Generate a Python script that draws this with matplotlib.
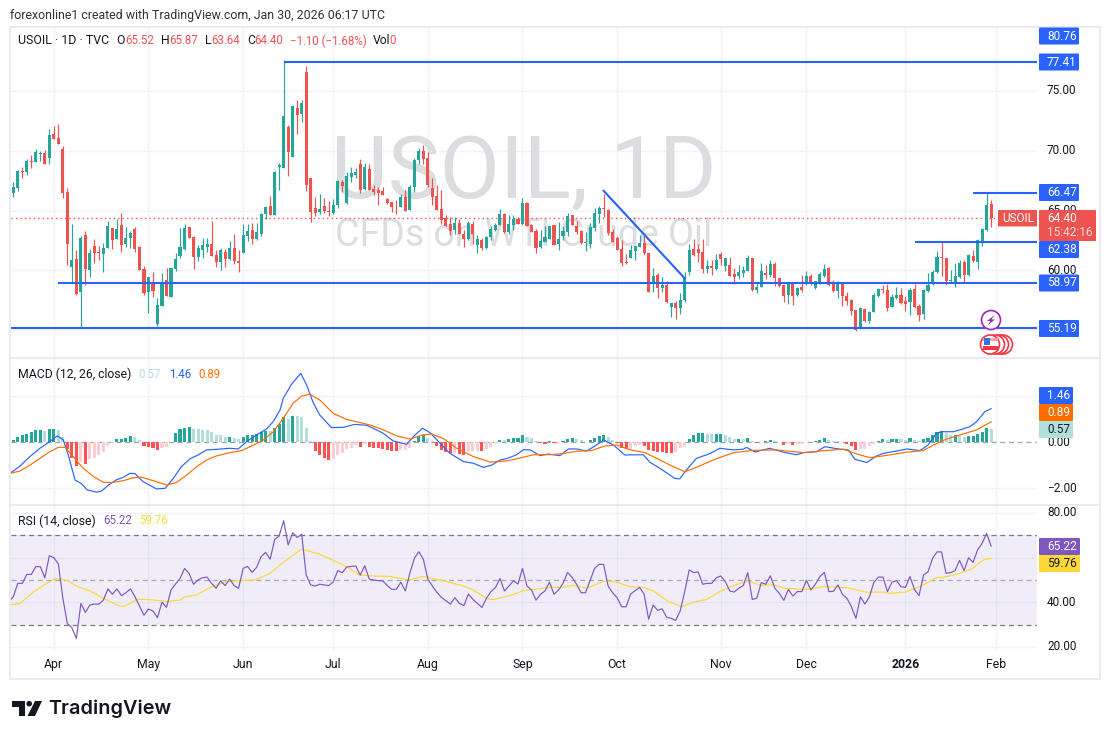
import numpy as np
import matplotlib
matplotlib.use("Agg")
import matplotlib.pyplot as plt
from matplotlib import patches as mpatches

plt.rcParams['font.family'] = ['Roboto', 'DejaVu Sans']

# USOIL daily candles
opens = [66.47,66.89,68.31,68.22,69.14,69.06,69.73,69.81,69.39,71.40,
    71.07,70.15,66.55,60.28,60.95,58.19,62.96,60.03,62.04,61.54,
    61.37,61.87,63.54,62.62,63.79,62.21,62.71,63.46,61.95,60.12,
    58.19,58.95,55.52,57.02,59.20,57.78,60.12,61.20,61.79,63.63,
    62.79,61.12,61.70,61.95,62.21,61.29,60.70,61.54,60.95,61.87,
    60.78,61.45,62.87,63.38,62.62,63.04,64.71,65.38,64.63,68.64,
    68.56,71.98,69.48,73.57,73.07,76.58,67.72,65.21,64.88,65.38,
    64.96,64.80,65.47,67.39,65.60,67.83,67.97,68.90,66.80,68.50,
    66.80,66.72,66.63,65.97,65.72,65.47,65.30,66.13,65.02,66.97,
    69.20,70.00,69.40,66.89,66.22,65.13,64.38,63.88,63.38,63.96,
    63.04,62.62,63.88,62.12,62.54,61.87,62.79,63.38,63.79,64.71,
    63.21,63.79,64.29,63.88,65.63,63.79,63.29,61.95,62.37,62.62,
    63.79,62.20,62.87,63.21,64.63,63.71,63.29,62.32,62.20,63.54,
    64.71,65.16,65.05,63.21,62.71,61.79,60.70,61.04,61.62,61.95,
    62.29,61.45,58.95,59.61,58.53,58.78,56.94,57.27,56.86,57.52,
    59.86,61.79,61.79,61.54,60.12,60.37,60.12,61.37,60.37,60.45,
    59.70,59.53,59.78,59.95,61.04,58.36,58.61,59.78,59.61,60.53,
    59.36,58.78,57.94,58.95,57.94,58.61,58.86,59.53,58.53,58.86,
    59.53,60.20,58.95,58.28,58.95,57.86,57.52,56.69,55.10,56.77,
    55.77,56.52,57.86,58.44,58.36,56.94,57.69,57.94,57.44,57.36,
    58.44,57.02,56.35,58.28,58.86,59.86,61.12,61.04,59.11,58.86,
    59.45,60.70,59.61,61.20,60.70,62.37,63.38,65.52]
highs = [67.39,68.39,68.64,69.31,69.64,70.15,69.98,70.06,71.82,72.07,
    72.24,70.40,66.89,63.88,61.70,62.87,63.29,61.79,62.62,62.04,
    62.29,64.10,63.54,64.30,64.80,63.63,63.29,63.63,62.04,60.37,
    59.45,59.87,57.69,59.78,60.20,60.20,61.45,63.54,63.88,63.63,
    62.87,62.12,62.71,62.71,64.13,61.70,61.87,61.79,62.46,63.04,
    61.70,63.88,63.88,63.96,63.96,64.80,65.38,66.22,68.31,68.98,
    77.58,72.15,73.82,74.24,74.24,77.08,67.72,66.13,66.38,66.05,
    65.80,65.97,67.55,67.55,68.25,68.60,68.55,69.30,69.00,68.90,
    67.14,66.94,66.97,66.05,65.72,65.88,66.38,66.72,67.14,69.40,
    70.20,70.50,69.90,67.72,67.14,66.72,64.63,64.46,64.46,64.29,
    63.38,64.13,64.13,62.96,62.71,62.87,63.71,63.96,65.13,64.80,
    64.63,64.63,64.46,66.05,65.72,63.88,63.46,63.38,63.71,63.71,
    63.79,64.04,63.71,64.80,64.63,64.13,63.38,63.21,63.96,65.21,
    65.38,66.38,65.13,63.46,62.87,62.54,61.37,62.12,62.04,62.96,
    62.96,61.45,60.20,59.78,59.45,59.11,57.27,57.44,58.11,59.86,
    62.20,62.62,62.20,62.62,60.87,60.87,61.37,61.54,61.04,61.12,
    60.20,60.45,60.37,61.29,61.04,58.95,60.62,60.45,60.87,60.70,
    59.36,58.78,58.95,58.95,58.61,59.61,59.95,59.70,59.11,59.86,
    60.53,60.28,59.20,59.11,58.95,58.19,57.61,56.69,56.94,56.77,
    56.61,58.11,58.53,58.78,58.86,58.03,58.61,58.53,57.86,58.53,
    58.86,57.19,58.44,59.78,60.03,61.62,62.37,61.04,60.03,60.62,
    60.87,60.87,61.37,61.70,62.62,63.54,66.47,65.87]
lows = [66.13,66.64,67.72,67.97,68.56,69.06,69.14,68.89,68.89,70.98,
    70.56,66.05,60.45,58.95,57.94,55.19,58.78,59.45,60.62,60.87,
    59.87,61.87,61.79,62.62,61.54,61.95,61.87,61.54,60.03,57.94,
    56.44,57.78,55.35,57.02,57.86,57.78,59.95,61.04,61.70,62.71,
    60.12,60.78,61.04,61.54,61.20,60.28,60.03,60.28,60.87,60.53,
    59.87,61.45,62.46,62.21,62.54,62.87,64.30,64.63,64.63,66.72,
    68.56,67.89,69.48,71.40,72.40,66.64,64.04,64.55,64.71,64.80,
    64.55,64.71,65.21,66.55,65.52,67.39,67.69,66.44,66.72,66.72,
    66.30,65.46,66.30,65.55,64.88,64.71,65.30,64.96,65.02,66.55,
    68.90,68.90,67.00,65.46,65.05,63.90,63.71,62.96,63.04,63.04,
    61.95,62.54,62.20,61.45,61.70,61.79,62.54,63.29,63.79,63.12,
    63.04,63.38,63.88,63.79,63.71,63.21,61.45,61.87,62.37,62.62,
    62.12,61.70,62.54,62.87,63.79,63.04,62.20,61.62,61.87,63.29,
    63.96,64.46,62.96,62.37,61.70,60.37,60.53,61.04,60.87,61.95,
    61.29,58.19,58.19,57.69,58.19,57.27,56.10,55.94,56.35,57.36,
    59.61,61.20,60.70,59.78,59.78,59.61,60.03,60.45,59.95,59.53,
    58.86,59.28,59.45,59.95,58.28,58.11,58.61,59.28,59.45,58.70,
    58.61,57.36,57.19,57.11,57.86,58.19,58.78,58.78,58.44,58.86,
    59.45,58.70,58.19,57.69,57.02,57.11,56.27,54.93,55.10,55.69,
    55.60,56.52,57.78,58.11,56.61,56.94,57.61,57.19,56.61,56.27,
    56.86,55.77,55.94,58.19,58.78,59.78,59.53,58.78,59.03,58.61,
    59.36,58.95,59.53,60.70,60.12,62.04,63.29,63.64]
closes = [66.97,68.31,68.22,69.14,69.06,69.89,69.84,68.89,71.32,70.98,
    70.56,66.47,62.20,60.87,58.03,62.71,60.12,61.45,61.45,61.48,
    61.87,63.71,62.54,63.46,62.12,62.71,63.12,61.79,60.03,58.11,
    59.45,58.28,57.11,58.95,57.86,60.20,60.95,61.95,63.54,62.71,
    61.12,61.87,62.12,62.21,61.20,60.70,61.70,60.95,61.87,60.78,
    60.62,62.96,63.29,62.62,63.21,64.71,65.30,64.63,68.22,68.81,
    72.90,69.89,73.74,72.99,73.99,67.14,64.88,64.80,65.13,64.96,
    64.91,65.47,67.47,67.05,67.89,68.17,68.25,66.72,68.60,66.72,
    66.55,66.47,66.30,65.63,65.30,65.44,66.13,64.96,66.97,69.20,
    70.00,69.30,67.14,66.13,65.05,64.21,63.71,63.29,63.96,63.04,
    62.62,63.96,63.04,62.62,61.87,62.79,63.46,63.79,64.71,63.21,
    63.88,64.29,63.88,65.63,63.71,63.21,61.87,62.46,62.79,63.71,
    62.12,62.62,63.29,64.54,63.79,63.21,62.29,62.37,63.63,64.80,
    65.21,65.13,63.12,62.37,61.70,60.62,60.62,61.70,62.04,62.29,
    61.45,58.19,59.53,58.53,58.78,57.36,57.27,56.86,57.52,59.36,
    61.70,61.29,61.45,60.12,60.37,60.20,60.87,60.95,61.04,59.53,
    59.45,59.86,60.03,61.04,58.36,58.61,59.95,59.61,60.53,59.36,
    58.70,57.86,58.95,57.86,58.53,58.36,59.53,58.86,59.11,59.70,
    60.12,58.78,58.28,58.86,57.86,57.44,56.61,55.02,56.86,55.77,
    56.52,57.94,58.44,58.36,56.86,57.78,57.94,57.27,57.19,58.36,
    56.94,56.27,58.36,58.78,59.86,61.12,61.06,59.11,59.20,59.53,
    60.62,59.61,61.29,60.78,62.54,63.46,65.46,64.40]

# drawn levels: (bar the line starts on, price)
level_start = [60, 213, 200, 10, -1]
level_price = [77.41, 66.47, 62.38, 58.97, 55.19]
trend_x = [131, 149]
trend_y = [66.66, 59.34]
last_price = 64.40

month_bars = [9, 30, 51, 71, 92, 113, 134, 157, 176, 198, 218]
month_names = ['Apr', 'May', 'Jun', 'Jul', 'Aug', 'Sep', 'Oct', 'Nov', 'Dec', '2026', 'Feb']

macd_hist = [.10,.23,.30,.38,.43,.54,.54,.48,.57,.58,.54,.23,-.30,-.70,-1.03,-.84,-.94,-.74,-.67,-.55,
    -.41,-.16,-.04,.13,.14,.19,.28,.22,.10,-.16,-.20,-.26,-.33,-.23,-.20,.02,
    .39,.59,.64,.67,.58,.57,.55,.54,.46,.32,.31,.22,.24,.17,.14,.23,.32,.33,.34,.46,.51,.50,.64,.80,
    1.10,1.00,1.14,1.13,1.10,.61,.06,-.36,-.55,-.67,-.75,-.72,-.55,-.45,-.30,-.23,-.12,-.19,-.07,-.20,
    -.25,-.26,-.29,-.35,-.38,-.39,-.33,-.32,-.25,.06,.29,.32,.19,.06,-.14,-.33,-.42,-.48,-.47,-.49,
    -.55,-.38,-.37,-.36,-.38,-.29,-.20,-.04,.10,.09,.14,.19,.195,.32,.23,.19,.07,-.04,-.06,.06,
    -.03,-.02,.04,.14,.19,.14,.10,.01,.10,.19,.28,.32,.23,.10,-.04,-.26,-.29,-.28,-.14,-.12,
    -.14,-.33,-.38,-.41,-.42,-.45,-.46,-.42,-.26,-.19,.14,.32,.41,.42,.36,.35,.36,.37,.32,.23,
    .14,.15,.14,.20,.06,-.04,.01,.06,.10,.06,.01,-.10,-.09,-.11,-.09,-.08,-.001,.01,.06,.10,
    .19,.10,.06,.04,.00,-.06,-.16,-.33,-.29,-.28,-.16,-.06,.04,.14,.10,.14,.145,.14,.10,.19,
    .10,.06,.14,.19,.32,.45,.48,.39,.32,.33,.28,.23,.28,.29,.36,.45,.62,.57]

macd_x = [-0.7,1.5,3.7,5.9,7.8,9.8,11.1,12.2,13.7,15.2,16.4,18.5,19.6,21.1,22.8,24.4,25.9,27,28.8,31.8,
    33.7,35.5,37.3,39.2,41,42.9,45.5,48.1,49.9,51.8,54,56.2,57.7,59.2,59.9,61.8,63.8,65.1,66.6,68,
    70.6,73.2,75.8,78.4,79.9,82.1,84.3,87.3,88.8,90.8,92.5,94.7,96.9,99.9,102.1,104.3,106.2,108,109.5,111.7,
    113.2,114.7,116.9,118.7,121.3,123.2,125,127.2,129.1,131,133.2,135.7,139.8,141.3,143.5,146.8,147.9,149.4,151.6,154.6,
    156.8,159.8,162,162.7,164.6,167.9,170.9,173.8,175.3,178.3,180.1,183.1,185.3,186.8,189.4,191.6,193.1,196,198.3,201.2,
    203,204.9,206,208.6,210.1,212.3,213.8,215.6,217]
macd_y = [-1.35,-1.03,-.62,-.26,-.01,.28,.10,-.55,-1.64,-1.81,-2.07,-2.17,-2.12,-1.86,-1.64,-1.52,-1.35,-1.36,-1.71,-2.03,
    -2.0,-1.57,-1.06,-.72,-.55,-.33,-.30,-.26,-.29,.03,.32,.58,.90,1.41,1.91,2.54,3.0,2.49,1.70,1.19,
    .64,.65,.78,.74,.61,.39,.06,-.09,.25,.61,.42,-.04,-.48,-.84,-.91,-1.09,-.99,-.77,-.71,-.54,
    -.32,-.33,-.58,-.51,-.58,-.29,-.29,-.38,-.16,.10,-.12,-.55,-.54,-.87,-1.13,-1.57,-1.59,-1.20,-.70,-.49,
    -.26,-.33,-.30,-.22,-.42,-.26,-.43,-.54,-.45,-.41,-.19,-.29,-.33,-.74,-.88,-.59,-.48,-.38,-.29,-.36,
    -.12,.39,.46,.46,.54,.68,.90,1.33,1.46]
signal_x = [-0.7,1.5,3.7,5.9,8.1,10,11.5,13.3,15.5,17.8,20,21.8,24.4,26.6,28.5,31.1,34,36.2,38.5,40.7,
    42.9,45.1,48.1,50.7,53.3,55.5,57.7,59.9,62.1,64,65.8,68,71,73.9,76.9,79.2,82.1,85.1,88,90.8,
    92.8,95.4,98.4,102.1,105.8,109.5,113.2,115.4,119.1,122,125,128.3,131.3,133.9,136.9,140.2,143.5,146.5,149,151.6,
    155.3,159.8,164.2,169.4,175.3,179,184.2,187.2,190.1,193.8,198.2,201.9,204.2,207.1,210.1,213.8,217]
signal_y = [-1.35,-1.25,-.99,-.70,-.41,-.22,-.22,-.62,-1.13,-1.49,-1.74,-1.75,-1.67,-1.54,-1.52,-1.67,-1.86,-1.75,-1.42,-1.06,
    -.77,-.59,-.45,-.36,-.12,.10,.46,1.04,1.70,2.01,2.09,1.84,1.26,1.0,.86,.75,.54,.28,.14,.32,
    .36,.17,-.26,-.62,-.86,-.81,-.65,-.54,-.54,-.49,-.39,-.36,-.16,-.12,-.33,-.45,-.77,-1.06,-1.28,-1.09,
    -.77,-.45,-.35,-.33,-.45,-.38,-.30,-.51,-.67,-.57,-.43,-.36,-.12,.14,.32,.54,.89]

# rsi, one value per bar, the first one is the bar before the chart starts
rsi_values = [40.3,42.5,48.5,48.5,52.5,52.5,56.0,56.0,51.0,60.9,60.0,57.2,41.8,30.4,28.6,23.8,39.5,35.5,38.8,39.2,39.2,
    41.0,46.0,43.6,46.0,43.0,44.3,46.0,42.5,38.3,34.2,37.0,36.1,33.1,40.1,37.7,45.5,48.2,50.7,55.2,53.0,
    48.1,50.0,51.0,51.3,48.5,46.3,49.6,47.5,50.4,47.5,46.3,55.2,56.1,53.4,55.7,60.5,62.4,59.3,68.2,69.7,
    76.6,65.7,71.2,69.1,70.5,52.2,47.8,47.3,48.1,47.8,47.5,49.1,54.2,53.3,55.8,56.1,56.3,52.2,56.4,50.4,
    50.0,49.7,49.6,47.5,45.8,45.8,49.0,45.1,53.0,59.7,62.7,59.3,50.4,47.3,44.5,42.2,40.7,39.2,42.1,39.5,
    38.5,43.7,41.3,39.5,37.7,41.8,44.8,46.6,50.7,45.1,47.3,49.6,48.2,55.2,47.3,45.5,41.0,43.6,45.1,49.0,
    43.6,45.5,48.5,53.4,51.2,48.1,44.3,44.3,49.7,55.2,57.0,57.0,47.3,44.3,42.1,38.0,38.0,43.7,45.2,46.7,
    43.6,32.4,38.8,36.4,37.1,33.3,32.8,31.9,36.1,44.8,54.5,53.3,53.6,48.1,48.5,48.5,51.0,51.8,49.3,45.1,
    44.6,46.3,47.5,53.3,41.3,41.8,48.8,48.1,51.9,46.3,44.0,40.9,45.7,42.8,44.8,44.8,49.9,45.5,48.1,51.5,
    53.4,44.8,44.9,47.8,43.6,41.8,38.0,32.8,42.5,39.2,42.5,49.0,51.3,51.3,44.8,49.0,49.7,47.0,46.7,51.6,
    45.7,43.0,52.2,53.7,59.7,62.6,62.6,53.0,53.3,54.2,58.8,54.2,60.0,57.9,63.5,66.4,70.9,65.22]
rsi_ma_x = [-0.7,1.5,4.4,7.4,9.2,10.7,12.2,14,17,20,23.6,24.8,27.4,30.3,34,37,38,40.7,43.3,47.3,
    50.3,53.6,57,59.9,64,68,71.7,74.3,76.9,79.9,83.6,87.7,91,96.2,99.9,102.1,105,106.5,110.2,113.2,
    115.4,119.1,122,124.3,127.2,131.3,133.9,136.9,139.8,142,145.4,148.3,150.9,153.9,156.8,160.2,163.1,165.7,168.7,171.2,
    176,179.8,184.9,189.4,193.1,194.6,197.9,201.2,204.9,207.1,210.1,212.7,215.3,217]
rsi_ma_y = [38.8,39.5,44.5,48.5,50.4,50.4,49.6,47.3,45.1,41.8,38.3,38.3,41.3,41.2,40.4,41,42.4,43.3,46.3,49.3,
    49.7,50,53,57.9,63.9,61.5,58.2,55.5,52.2,51.8,51.6,50,51.6,49.3,47.3,45.5,41.8,41.2,43,45.2,
    45.8,46.7,46.7,47.6,46.3,49.6,49,47,46.7,45.1,40.3,38,40,41.3,44.8,47.8,49.6,47.6,47.8,46.3,
    45.7,47,46.6,44.5,44.6,44,44.6,47,51,51.5,53,55,59,59.76]

assert len(opens) == len(highs) == len(lows) == len(closes) == len(macd_hist) == len(rsi_values) - 1
assert len(macd_x) == len(macd_y) and len(signal_x) == len(signal_y) and len(rsi_ma_x) == len(rsi_ma_y)

W, H = 1110, 739
GREEN, RED = '#26a69a', '#ef5350'
BLUE = '#2962ff'
GRID = '#f0f3fa'
BORDER = '#e6e9f0'
TEXT = '#131722'
X_LEFT, X_RIGHT = 10.5, 1037.0
BAR0, BAR_STEP = 13.3, 4.506


def panel(top, bottom):
    # axes given in image pixels, same bar scale in all panels
    ax = fig.add_axes([X_LEFT / W, 1 - bottom / H, (X_RIGHT - X_LEFT) / W, (bottom - top) / H])
    ax.set_xlim((X_LEFT - BAR0) / BAR_STEP, (X_RIGHT - BAR0) / BAR_STEP)
    ax.set_xticks(month_bars)
    ax.tick_params(length=0, labelbottom=False, labelleft=False)
    ax.set_axisbelow(True)
    ax.grid(True, color=GRID, lw=1.0)
    for s in ax.spines.values():
        s.set_visible(False)
    ax.patch.set_alpha(0)
    return ax


fig = plt.figure(figsize=(W / 100, H / 100), dpi=100, facecolor='white')

# main pane
ax = panel(27, 358)
ax.set_ylim(55.19 - 30 / 11.97, 55.19 + 301 / 11.97)
ax.set_yticks([55, 60, 65, 70, 75])
ax.text(0.5, 0.555, 'USOIL, 1D', transform=ax.transAxes, ha='center', va='center', fontsize=63, color='#dcdde0', zorder=1)
ax.text(0.4995, 0.37, 'CFDs on WTI Crude Oil', transform=ax.transAxes, ha='center', va='center', fontsize=27, color='#dcdde0', zorder=1)

bars = np.arange(len(opens))
o, h, l, c = map(np.array, (opens, highs, lows, closes))
up = c >= o
cols = np.where(up, GREEN, RED)
ax.axhline(last_price, color=RED, lw=1.0, ls=(0, (1, 2.2)), zorder=2)
for lv_s, lv_p in zip(level_start, level_price):
    ax.plot([lv_s, 300], [lv_p, lv_p], color=BLUE, lw=1.5, zorder=4, solid_capstyle='butt')
ax.plot(trend_x, trend_y, color=BLUE, lw=1.5, zorder=4)
ax.vlines(bars, l, h, colors=cols, lw=0.85, zorder=3)
ax.bar(bars, np.maximum(np.abs(c - o), 0.06), bottom=np.minimum(o, c), width=0.68, color=cols, lw=0, zorder=3)

# macd pane
ax2 = panel(358, 505)
ax2.set_ylim((442.3 - 505) / 23.0, (442.3 - 358) / 23.0)
ax2.set_yticks([-2, 2])
ax2.axhline(0, color='#787b86', lw=0.9, ls=(0, (4, 3)), alpha=0.7, zorder=1)
hist = np.array(macd_hist)
prev = np.r_[hist[0], hist[:-1]]
hist_cols = np.where(hist >= 0, np.where(hist >= prev, GREEN, '#b2dfdb'), np.where(hist < prev, '#ff5252', '#ffcdd2'))
ax2.bar(np.arange(len(hist)), hist, width=0.68, color=hist_cols, lw=0, zorder=2)
ax2.plot(macd_x, macd_y, color=BLUE, lw=0.85, zorder=3)
ax2.plot(signal_x, signal_y, color='#ff6d00', lw=0.85, zorder=4)

# rsi pane
ax3 = panel(505, 651)
ax3.set_ylim(50 - 213 / 6.69 * 1.0, 50 + 225 / 6.69)
ax3.set_yticks([20, 40, 60, 80])
ax3.axhspan(30, 70, color='#7e57c2', alpha=0.1, lw=0, zorder=1)
for lv, al in zip([70, 50, 30], [1.0, 0.6, 1.0]):
    ax3.axhline(lv, color='#787b86', lw=0.9, ls=(0, (4, 3)), alpha=al, zorder=2)
ax3.plot(np.arange(-1, len(rsi_values) - 1), rsi_values, color='#7e57c2', lw=0.85, zorder=4)
ax3.plot(rsi_ma_x, rsi_ma_y, color='#fdd835', lw=0.85, zorder=3)

# overlay in image pixels for frame, labels and logo
ov = fig.add_axes([0, 0, 1, 1], zorder=10)
ov.set_xlim(0, W)
ov.set_ylim(H, 0)
ov.axis('off')
ov.patch.set_alpha(0)

ov.add_patch(mpatches.Rectangle((10, 27), 1090, 652, fc='none', ec=BORDER, lw=1.3))
ov.plot([10, 1100], [358, 358], color=BORDER, lw=1.3)
ov.plot([10, 1100], [505, 505], color=BORDER, lw=1.3)

FS = 8.8   # words
FN = 8.3   # numbers


def txt(x, y, s, color=TEXT, size=FS, **kw):
    kw.setdefault('ha', 'left')
    kw.setdefault('va', 'center')
    ov.text(x, y, s, color=color, fontsize=size, **kw)


def box(x0, x1, y0, y1, col, z=3):
    ov.add_patch(mpatches.FancyBboxPatch((x0 + 1, y0 + 1), x1 - x0 - 2, y1 - y0 - 2, boxstyle='round,pad=1',
                                         fc=col, ec='none', zorder=z))


txt(10, 15, 'forexonline1 created with TradingView.com, Jan 30, 2026 06:17 UTC', color='#333333', size=8.95)

# main legend
txt(18, 41, 'USOIL · 1D · TVC', size=8.95)
for x_l, lab, x_v, val in [(116, 'O', 125, '65.52'), (161, 'H', 169, '65.87'), (205.5, 'L', 211, '63.64'), (247, 'C', 254, '64.40')]:
    txt(x_l, 41, lab)
    txt(x_v, 41, val, color=RED, size=FN)
txt(290, 41, '−1.10 (−1.68%)', color=RED, size=FN)
txt(373, 41, 'Vol')
txt(389, 41, '0', color=RED, size=FN)

txt(18, 374, 'MACD (12, 26, close)')
txt(138, 374, '0.57', color='#b2dfdb', size=FN)
txt(169, 374, '1.46', color=BLUE, size=FN)
txt(198, 374, '0.89', color='#ff6d00', size=FN)

txt(18, 521, 'RSI (14, close)')
txt(103, 521, '65.22', color='#7e57c2', size=FN)
txt(139, 521, '59.76', color='#fdd835', size=FN)

# price axis ticks, they sit under the coloured labels
for yy, s in [(91, '75.00'), (151, '70.00'), (211, '65.00'), (271, '60.00'), (442, '0.00'), (488, '−2.00'),
              (513, '80.00'), (602, '40.00'), (647, '20.00')]:
    txt(1047, yy, s, zorder=2, size=8.5)

# coloured price labels
for yy, s in [(36, '80.76'), (62, '77.41'), (192.5, '66.47'), (249.5, '62.38'), (283, '58.97'), (328.5, '55.19')]:
    box(1039, 1079, yy - 8.5, yy + 8.5, BLUE)
    txt(1047, yy, s, color='white', zorder=5, size=8.5)
box(998, 1037, 210, 226.5, RED)
txt(1002, 218, 'USOIL', color='white', zorder=5, size=8.5)
box(1039, 1096, 210, 241, RED)
txt(1047, 218.5, '64.40', color='white', zorder=5, size=8.5)
txt(1047, 232, '15:42:16', color='white', zorder=5, alpha=0.8, size=8.5)

for y0, s, col, tc in [(387, '1.46', BLUE, 'white'), (404, '0.89', '#ff6d00', 'white'), (421, '0.57', '#b2dfdb', TEXT)]:
    box(1039, 1073, y0, y0 + 17, col)
    txt(1047, y0 + 8.5, s, color=tc, zorder=5, size=8.5)
for y0, s, col, tc in [(538, '65.22', '#7e57c2', 'white'), (555, '59.76', '#fdd835', TEXT)]:
    box(1039, 1080, y0, y0 + 17, col)
    txt(1047, y0 + 8.5, s, color=tc, zorder=5, size=8.5)

# time axis
for b, s in zip(month_bars, month_names):
    txt(BAR0 + b * BAR_STEP, 664.5, s, ha='center', weight='bold' if s == '2026' else 'normal')

# event marks near the last bar
ov.add_patch(mpatches.Circle((991, 320), 9.5, fc='white', ec='#9c27b0', lw=1.2, zorder=6))
ov.add_patch(mpatches.Polygon([(994.5, 315), (987, 321), (990.5, 321), (987.5, 325.5), (995, 319.5), (991.5, 319.5)], fc='#9c27b0', ec='none', zorder=7))
for k, xc in enumerate([1003, 999, 995, 990]):
    ov.add_patch(mpatches.Circle((xc, 344.5), 9.5, fc='white', ec='#f23645', lw=1.2, zorder=6 + k))
ov.add_patch(mpatches.Rectangle((983, 338), 15, 3, fc='#f7a1a8', ec='none', zorder=10))
ov.add_patch(mpatches.Rectangle((983, 346), 15, 4, fc='#f23645', ec='none', zorder=10))
ov.add_patch(mpatches.Rectangle((984, 338), 6, 7, fc='#3d6fd8', ec='none', zorder=11))

# tradingview logo
ov.add_patch(mpatches.Polygon([(12, 701), (25, 701), (25, 716), (18.5, 716), (18.5, 706.7), (12, 706.7)], fc='#131722', ec='none'))
ov.add_patch(mpatches.Circle((29.2, 703.7), 2.8, fc='#131722', ec='none'))
ov.add_patch(mpatches.Polygon([(35, 701), (42, 701), (35, 716), (27.5, 716)], fc='#131722', ec='none'))
ov.text(48.5, 708.5, 'TradingView', color='#131722', fontsize=14.3, family='Inter', weight='semibold', ha='left', va='center')

fig.savefig('out.png', dpi=100, facecolor='white')
